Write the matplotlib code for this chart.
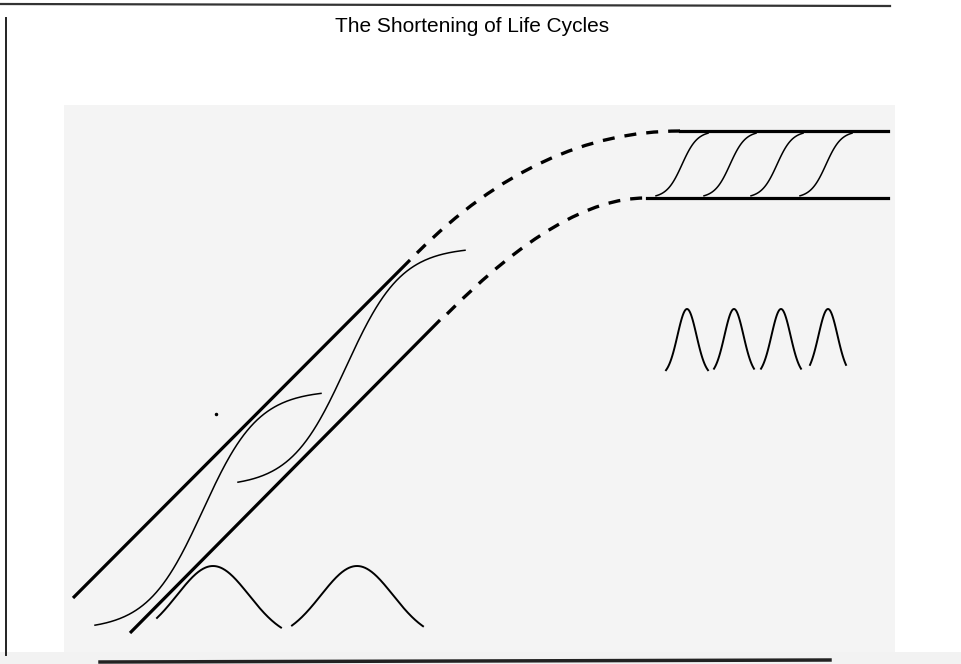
import numpy as np
import matplotlib.pyplot as plt
from matplotlib.path import Path
from matplotlib.patches import PathPatch, Rectangle

# diagram drawn in pixel coordinates of the 961x664 page
title = "The Shortening of Life Cycles"

# long (old) life cycles, lower left
big_s_centers = [203, 346]
big_s_base = [630, 487]
big_s_xrange = [(95, 321), (238, 465)]
big_s_height = 240
big_bell_centers = [213, 357]
big_bell_xrange = [(157, 281), (292, 423)]
big_bell_base = 640
big_bell_height = 74

# short (new) life cycles, right
small_s_centers = [682, 730, 777, 826]
small_bell_centers = [687, 734, 781, 828]
small_bell_half = [21, 20, 20, 18]
small_bell_base = 376
small_bell_height = 67
level_top = 131
level_bottom = 198
level_top_x = [680, 888]
level_bottom_x = [647, 888]

# growth trend lines and their dashed continuation
upper_trend_x = [73, 410]
upper_trend_y = [598, 260]
lower_trend_x = [130, 440]
lower_trend_y = [633, 320]
upper_dash = [(417, 253), (539, 131), (680, 131)]
lower_dash = [(447, 314), (562, 198), (645, 198)]

fig = plt.figure(figsize=(9.61, 6.64), dpi=100)
ax = fig.add_axes([0, 0, 1, 1])
ax.set_xlim(0, 961)
ax.set_ylim(664, 0)
ax.axis("off")

# page scan edges
ax.add_patch(Rectangle((64, 105), 831, 548, facecolor="#f4f4f4", edgecolor="none"))
ax.add_patch(Rectangle((0, 652), 961, 12, facecolor="#f2f2f2", edgecolor="none"))
ax.plot([0, 890], [4, 6], color="#333333", lw=1.6)
ax.plot([6, 6], [18, 655], color="#222222", lw=1.4)
ax.plot([100, 830], [662, 660], color="#222222", lw=2.5)

ax.text(472, 26, title, ha="center", va="center", fontsize=15,
        family=["Liberation Sans", "DejaVu Sans"])

# trend lines
ax.plot(upper_trend_x, upper_trend_y, color="black", lw=2.3, solid_capstyle="butt")
ax.plot(lower_trend_x, lower_trend_y, color="black", lw=2.3, solid_capstyle="butt")
for pts in [upper_dash, lower_dash]:
    path = Path(pts, [Path.MOVETO, Path.CURVE3, Path.CURVE3])
    ax.add_patch(PathPatch(path, facecolor="none", edgecolor="black", lw=2.4,
                           linestyle=(0, (3.6, 3.0))))

# old cycles: S curves and their bells
k_big = 0.036
for c, b, (x0, x1) in zip(big_s_centers, big_s_base, big_s_xrange):
    xs = np.linspace(x0, x1, 200)
    ys = b - big_s_height / (1 + np.exp(-k_big * (xs - c)))
    ax.plot(xs, ys, color="black", lw=1.1)
for c, (x0, x1) in zip(big_bell_centers, big_bell_xrange):
    xs = np.linspace(x0, x1, 200)
    ys = big_bell_base - big_bell_height * np.exp(-(xs - c) ** 2 / (2 * 36 ** 2))
    ax.plot(xs, ys, color="black", lw=1.4)

# new cycles at maturity level
ax.plot(level_top_x, [level_top] * 2, color="black", lw=2.3)
ax.plot(level_bottom_x, [level_bottom] * 2, color="black", lw=2.3)
k_small = 0.13
for c in small_s_centers:
    xs = np.linspace(c - 26, c + 26, 100)
    ys = level_bottom - (level_bottom - level_top) / (1 + np.exp(-k_small * (xs - c)))
    ax.plot(xs, ys, color="black", lw=1.1)
for c, h in zip(small_bell_centers, small_bell_half):
    xs = np.linspace(c - h, c + h, 100)
    ys = small_bell_base - small_bell_height * np.exp(-(xs - c) ** 2 / (2 * 9.5 ** 2))
    ax.plot(xs, ys, color="black", lw=1.4)

# speck on the scan
ax.plot([216], [414], marker="o", ms=1.5, color="black")

fig.savefig("out.png", dpi=100)
